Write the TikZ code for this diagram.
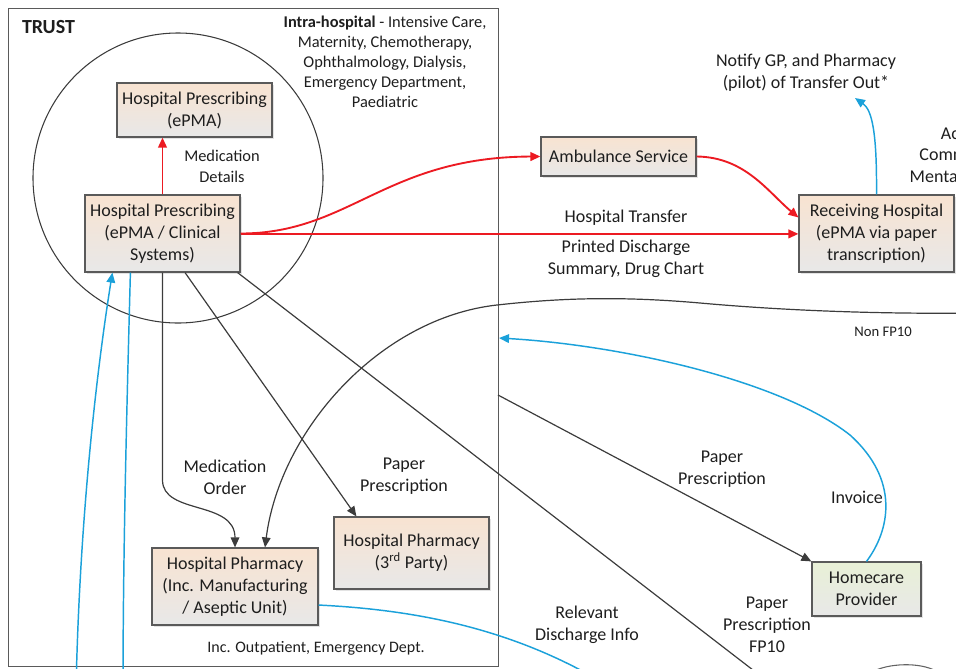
\documentclass[tikz,border=0pt]{standalone}
\usepackage{fontspec}
\setmainfont{Carlito}
\usetikzlibrary{arrows.meta,shadows,calc}
\definecolor{redln}{HTML}{EC1A22}
\definecolor{blueln}{HTML}{1BA1DA}
\definecolor{blk}{HTML}{3C3C3C}
\definecolor{peach}{HTML}{F8E3D1}
\definecolor{boxgray}{HTML}{E8E8E8}
\definecolor{greentop}{HTML}{E8F0D6}
\definecolor{bordr}{HTML}{5A5A5A}
\definecolor{txt}{HTML}{1E1E1E}
\begin{document}
\begin{tikzpicture}[x=0.75pt,y=-0.75pt,
  box/.style={draw=bordr, line width=0.9pt, top color=peach, bottom color=boxgray, align=center,
    font=\fontsize{13.5}{16.5}\selectfont, text=txt, inner sep=2pt,
    drop shadow={shadow xshift=1.8pt, shadow yshift=-1.8pt, fill=black!22}},
  gbox/.style={box, top color=greentop},
  sz/.style 2 args={minimum width=#1*0.75pt, minimum height=#2*0.75pt},
  lbl/.style={align=center, font=\fontsize{13.5}{16.5}\selectfont, text=txt, inner sep=0pt},
  slbl/.style={align=center, font=\fontsize{12.3}{15.3}\selectfont, text=txt, inner sep=0pt},
  tip/.style={-{Triangle[length=7.5pt,width=6.5pt]}},
  redarr/.style={draw=redln, line width=1.4pt, tip},
  blkarr/.style={draw=blk, line width=0.9pt, tip},
  blkline/.style={draw=blk, line width=0.9pt},
  bluearr/.style={draw=blueln, line width=1.1pt, tip},
  blueline/.style={draw=blueln, line width=1.1pt},
]
\useasboundingbox (0,0) rectangle (956,668);
\clip (0,0) rectangle (956,668);

% frames
\node[draw=bordr, line width=1pt, minimum width=490*0.75pt, minimum height=658*0.75pt,
      anchor=north west, inner sep=0pt] (trust) at (8,8) {};
\node[draw=blk, line width=0.8pt, circle, minimum size=290*0.75pt, inner sep=0pt] (circ) at (178,178) {};

% boxes
\node[box, sz={155}{54}] (epma) at (194.5,110) {Hospital Prescribing\\(ePMA)};
\node[box, sz={155}{77}] (clin) at (162.5,233.5) {Hospital Prescribing\\(ePMA / Clinical\\Systems)};
\node[box, sz={155}{39}] (amb) at (618.5,156.5) {Ambulance Service};
\node[box, sz={155}{77}] (recv) at (876.5,233.5) {Receiving Hospital\\(ePMA via paper\\transcription)};
\node[box, sz={166}{77}] (pharm) at (235,586.5) {Hospital Pharmacy\\(Inc. Manufacturing\\/ Aseptic Unit)};
\node[box, sz={155}{72}] (third) at (411.5,553) {Hospital Pharmacy\\(3\textsuperscript{rd} Party)};
\node[gbox, sz={109}{54}] (home) at (866.5,589) {Homecare\\Provider};

% texts
\node[lbl, font=\fontsize{15}{16}\selectfont\bfseries] (trustlbl) at (48.5,27) {TRUST};
\node[slbl, font=\fontsize{12.3}{15}\selectfont] (intra) at (385,62) {\textbf{Intra-hospital} - Intensive Care,\\Maternity, Chemotherapy,\\Ophthalmology, Dialysis,\\Emergency Department,\\Paediatric};
\node[slbl, font=\fontsize{12.3}{15.8}\selectfont] (meddet) at (222,166) {Medication\\Details};
\node[lbl] (htrans) at (626,218) {Hospital Transfer};
\node[lbl] (printed) at (626,259) {Printed Discharge\\Summary, Drug Chart};
\node[lbl] (notify) at (806,72.5) {Notify GP, and Pharmacy\\(pilot) of Transfer Out*};
\node[lbl, font=\fontsize{13.5}{16.2}\selectfont] (acute) at (962,155) {Acute\\Community\\Mental Health};
\node[lbl, font=\fontsize{11}{13}\selectfont] (nonfp) at (883,332) {Non FP10};
\node[lbl] (medord) at (225,477) {Medication\\Order};
\node[lbl] (pp3) at (404,476) {Paper\\Prescription};
\node[lbl] (pphome) at (722,469) {Paper\\Prescription};
\node[lbl] (invoice) at (857,497) {Invoice};
\node[lbl] (relev) at (587,625) {Relevant\\Discharge Info};
\node[lbl] (ppfp) at (767,625) {Paper\\Prescription\\FP10};
\node[lbl, font=\fontsize{12}{14}\selectfont] (incout) at (316,648) {Inc. Outpatient, Emergency Dept.};

% named free ends
\coordinate (nt) at (855,98);
\coordinate (nfstart) at (975,313);
\coordinate (fpend) at (775,687);
\coordinate (blA) at (76,690);
\coordinate (blB) at (123,690);
\coordinate (rdend) at (615,690);
\coordinate (hpstart) at (498,395);
\coordinate (invend) at (499,338);
\coordinate (arcA) at (872,672);
\coordinate (arcB) at (936,671);

% red connectors
\draw[redarr] (clin.north) -- (epma.south -| clin.north);
\draw[redarr] (clin.east) .. controls (350,233.5) and (385,157) .. (amb.west);
\draw[redarr] ([yshift=-0.3pt]clin.east) -- ([yshift=-0.3pt]recv.west);
\draw[redarr] (amb.east) .. controls (745,157) and (768,192) .. ([yshift=12pt]recv.west);

% blue connectors
\draw[bluearr] (recv.north) .. controls (877,132) and (872,110) .. (nt);
\draw[bluearr] (home.north) .. controls (890,530) and (900,480) .. (850,435)
   .. controls (780,380) and (620,345) .. (invend);
\draw[bluearr] (blA) .. controls (80,500) and (100,350) .. ([xshift=21pt]clin.south west);
\draw[blueline] ([xshift=34.5pt]clin.south west) .. controls (127,400) and (123,550) .. (blB);
\draw[blueline] ([yshift=-13.9pt]pharm.east) .. controls (420,610) and (520,630) .. (rdend);

% black connectors
\draw[blkarr] (clin.south) -- (162.5,480) .. controls (162.5,515) and (235,500) .. (pharm.north);
\draw[blkarr] ([xshift=16.9pt]clin.south) -- ([xshift=17.25pt]third.north west);
\draw[blkline] ([xshift=-2.25pt]clin.south east) -- (fpend);
\draw[blkarr] (hpstart) -- (home.north west);
\draw[blkarr] (nfstart) .. controls (900,314) and (800,312) .. (700,303)
   .. controls (620,296) and (560,298) .. (497,305)
   .. controls (380,318) and (280,430) .. ([xshift=22.5pt]pharm.north);
\draw[draw=blk!80, line width=0.8pt] (arcA) .. controls (888,663) and (920,662) .. (arcB);
\end{tikzpicture}
\end{document}
